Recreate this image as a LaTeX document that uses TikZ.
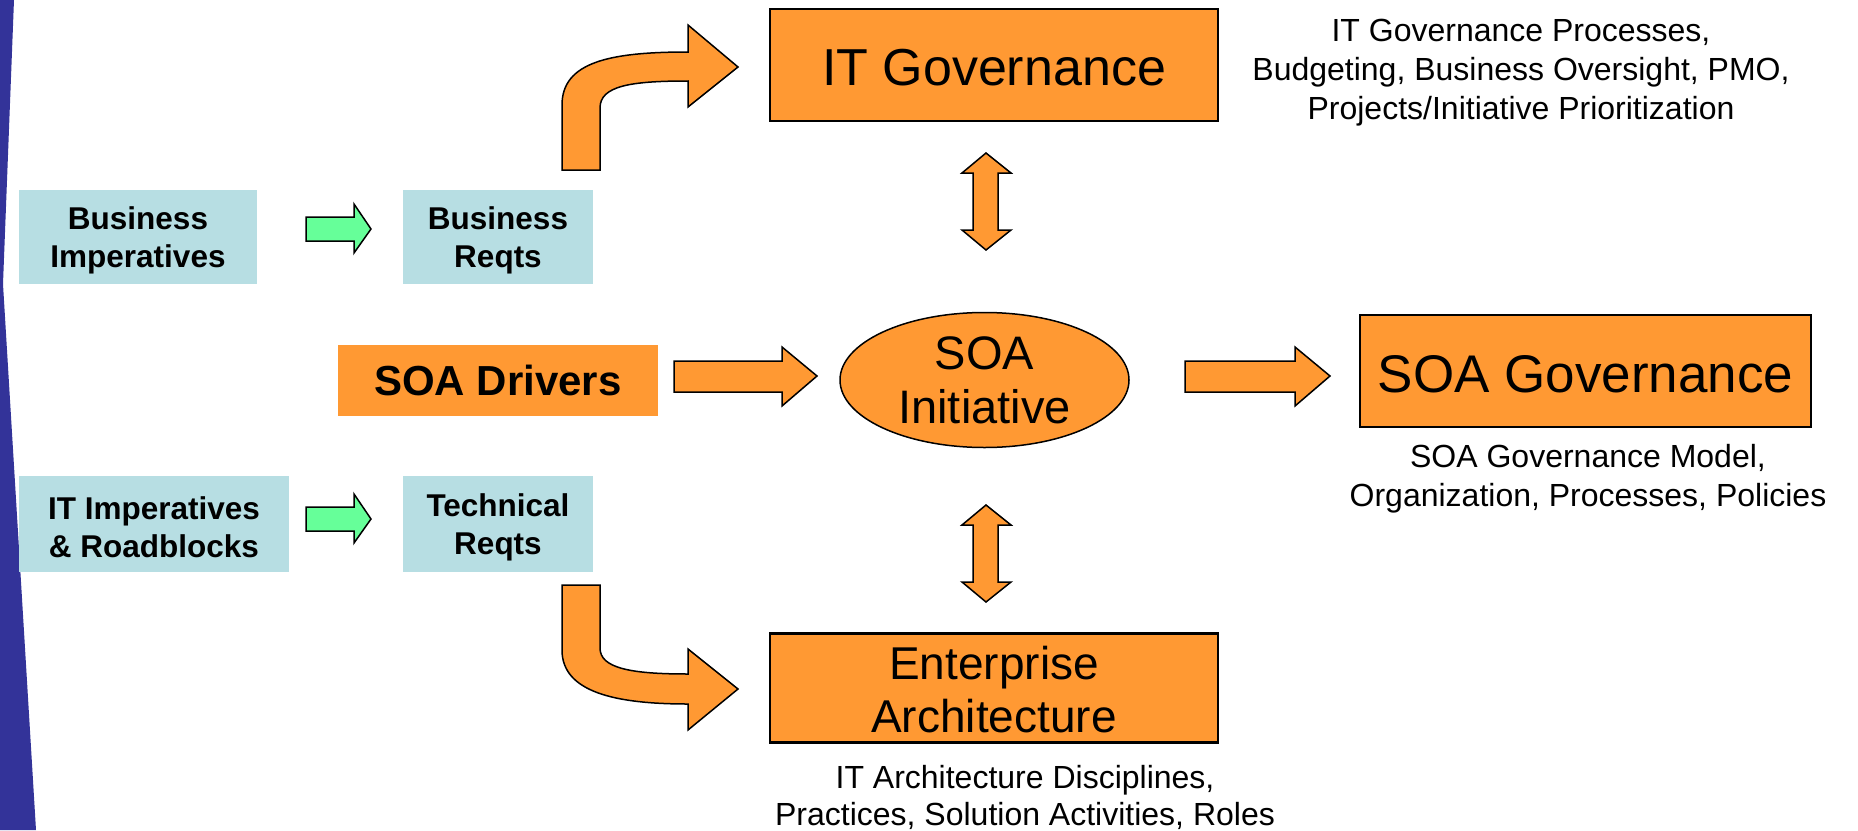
\documentclass[tikz,border=0pt]{standalone}
\usepackage{fontspec}
\setmainfont{Liberation Sans}
\usetikzlibrary{shapes.geometric}
\definecolor{orng}{RGB}{255,153,51}
\definecolor{lblue}{RGB}{183,222,227}
\definecolor{lgreen}{RGB}{102,255,153}
\definecolor{strip}{RGB}{51,51,153}
\tikzset{
  bluebox/.style={fill=lblue, inner sep=0pt},
  bluetext/.style={inner sep=0pt, align=center, font=\fontsize{31.5}{38}\selectfont\bfseries},
  orbox/.style={fill=orng, draw=black, line width=2.5pt, inner sep=0pt},
  boxtext/.style={inner sep=0pt, align=center},
  desc/.style={inner sep=0pt, align=center, font=\fontsize{32}{39}\selectfont},
  blockarrow/.style={fill=orng, draw=black, line width=1.5pt, line join=miter},
  greenarrow/.style={fill=lgreen, draw=black, line width=1.5pt, line join=miter}
}
\begin{document}
\begin{tikzpicture}[x=1pt,y=-1pt]
\useasboundingbox (0,0) rectangle (1858,830);
% left strip
\fill[strip] (0,0) -- (14,0) -- (3,284) -- (36,830) -- (0,830) -- cycle;

% boxes
\node[bluebox, minimum width=238pt, minimum height=94pt] (bi) at (138,237) {};
\node[bluetext] at ([yshift=-3pt]bi.center) {Business\\Imperatives};
\node[bluebox, minimum width=190pt, minimum height=94pt] (br) at (498,237) {};
\node[bluetext] at ([yshift=-3pt]br.center) {Business\\Reqts};
\node[bluebox, minimum width=270pt, minimum height=96pt] (ii) at (154,524) {};
\node[bluetext] at ([yshift=-3pt]ii.center) {IT Imperatives\\\& Roadblocks};
\node[bluebox, minimum width=190pt, minimum height=96pt] (tr) at (498,524) {};
\node[bluetext] at ([yshift=-3pt]tr.center) {Technical\\Reqts};
\node[fill=orng, inner sep=0pt, minimum width=320pt, minimum height=71pt, font=\fontsize{42}{50}\selectfont\bfseries] (sd) at (498,380) {SOA Drivers};
\node[orbox, minimum width=448pt, minimum height=112pt] (itg) at (994,65) {};
\node[boxtext, font=\fontsize{52}{60}\selectfont] at ([yshift=-3pt]itg.center) {IT Governance};
\node[orbox, minimum width=448pt, minimum height=109pt] (ea) at (994,688) {};
\node[boxtext, font=\fontsize{46}{53}\selectfont] at ([yshift=-2pt]ea.center) {Enterprise\\Architecture};
\node[orbox, minimum width=451pt, minimum height=112pt] (sg) at (1585.5,371) {};
\node[boxtext, font=\fontsize{53}{60}\selectfont] at ([yshift=-3pt]sg.center) {SOA Governance};
\node[ellipse, fill=orng, draw=black, line width=1.5pt, inner sep=0pt, minimum width=289pt, minimum height=135pt, align=center, font=\fontsize{47}{54}\selectfont] (si) at (984.5,380) {SOA\\Initiative};

% descriptions
\node[desc] (itgd) at (1521,73) {IT Governance Processes,\\Budgeting, Business Oversight, PMO,\\Projects/Initiative Prioritization};
\node[desc] (sgd) at (1588,479) {SOA Governance Model,\\Organization, Processes, Policies};
\node[desc, font=\fontsize{32}{37}\selectfont] (ead) at (1025,797) {IT Architecture Disciplines,\\Practices, Solution Activities, Roles};

% green arrows
\draw[greenarrow] (306,217) -- (354,217) -- (354,204) -- (371,229) -- (354,253) -- (354,241) -- (306,241) -- cycle;
\draw[greenarrow] (306,507) -- (354,507) -- (354,494) -- (371,519) -- (354,543) -- (354,531) -- (306,531) -- cycle;

% straight orange arrows
\draw[blockarrow] (674,361) -- (782,361) -- (782,347) -- (817,376) -- (782,406) -- (782,392) -- (674,392) -- cycle;
\draw[blockarrow] (1185,361) -- (1295,361) -- (1295,347) -- (1330,376) -- (1295,406) -- (1295,392) -- (1185,392) -- cycle;

% double arrows
\draw[blockarrow] (986,153) -- (1011,173) -- (998,173) -- (998,230) -- (1011,230) -- (986,250) -- (962,230) -- (973,230) -- (973,173) -- (962,173) -- cycle;
\draw[blockarrow] (986,505) -- (1011,525) -- (998,525) -- (998,582) -- (1011,582) -- (986,602) -- (962,582) -- (973,582) -- (973,525) -- (962,525) -- cycle;

% curved arrows
\draw[blockarrow] (562,170) -- (562,105) .. controls (562,62) and (610,52) .. (688,52) -- (688,25) -- (738,67) -- (688,107) -- (688,81) .. controls (630,81) and (600,86) .. (600,108) -- (600,170) -- cycle;
\draw[blockarrow] (562,585) -- (562,650) .. controls (562,692) and (615,704) .. (688,704) -- (688,730) -- (738,689) -- (688,649) -- (688,674) .. controls (630,674) and (600,668) .. (600,648) -- (600,585) -- cycle;
\end{tikzpicture}
\end{document}
